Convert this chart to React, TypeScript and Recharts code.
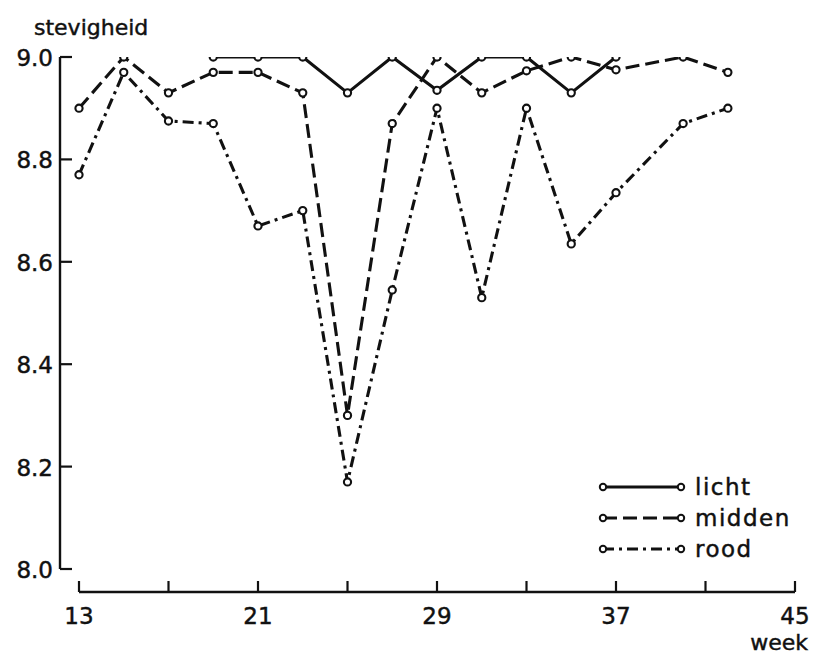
import React from 'react';
import * as R from 'recharts';

const { LineChart, Line, XAxis, YAxis } = R;

// weeks at which firmness was measured (licht has no data outside 19-37)
const weeks = [13, 15, 17, 19, 21, 23, 25, 27, 29, 31, 33, 35, 37, 40, 42];
const licht = [null, null, null, 9.0, 9.0, 9.0, 8.93, 9.0, 8.935, 9.0, 9.0, 8.93, 9.0, null, null];
const midden = [8.9, 9.0, 8.93, 8.97, 8.97, 8.93, 8.3, 8.87, 9.0, 8.93, 8.973, 9.0, 8.975, 9.0, 8.97];
const rood = [8.77, 8.97, 8.875, 8.87, 8.67, 8.7, 8.17, 8.545, 8.9, 8.53, 8.9, 8.635, 8.735, 8.87, 8.9];

const weekTicks = [13, 17, 21, 25, 29, 33, 37, 41, 45];
const weekLabels = [13, 21, 29, 37, 45];
const valueTicks = [8.0, 8.2, 8.4, 8.6, 8.8, 9.0];
const seriesNames = ['licht', 'midden', 'rood'];

const data = weeks.map((week, i) => ({
  week,
  licht: licht[i],
  midden: midden[i],
  rood: rood[i],
}));

const FONT = '"DejaVu Sans", sans-serif';
const INK = '#111';
// scanned print: text looks a bit heavier than DejaVu Book
const TEXT = { fontFamily: FONT, fontSize: 23, fill: INK, stroke: INK, strokeWidth: 0.45 };

/** dash pattern per series: solid, dashed, dash-dot */
const DASH: Record<string, string | undefined> = {
  licht: undefined,
  midden: '14 6',
  rood: '11 5 3 5',
};

// gap between the y-axis line and the first week
const Y_AXIS_GAP = 19;
const BOTTOM_PAD = 23;

function Dot(props: any) {
  const { cx, cy, index } = props;
  if (cy == null || cx == null) return <g key={`d-${index}`} />;
  return (
    <circle key={`d-${index}`} cx={cx} cy={cy} r={3.6} fill="#fff" stroke={INK} strokeWidth={2.1} />
  );
}

function WeekTick({ x, y, payload }: any) {
  const label = weekLabels.includes(payload.value);
  return (
    <g>
      <line x1={x} x2={x} y1={y} y2={y - 11} stroke={INK} strokeWidth={2.2} />
      {label && (
        <text x={x} y={y + 32} textAnchor="middle" {...TEXT}>
          {payload.value}
        </text>
      )}
    </g>
  );
}

function ValueTick({ x, y, payload }: any) {
  const ax = x - Y_AXIS_GAP;
  return (
    <g>
      <line x1={ax} x2={ax + 12} y1={y} y2={y} stroke={INK} strokeWidth={2.2} />
      <text x={ax - 7} y={y + 9} textAnchor="end" {...TEXT}>
        {payload.value.toFixed(1)}
      </text>
    </g>
  );
}

/** the y-axis line sits left of the plot and stops at 8.0; also the titles and legend */
function Decorations() {
  const usePlot = (R as any).usePlotArea;
  const plot = usePlot ? usePlot() : null;
  if (!plot) return null;
  const ax = plot.x - Y_AXIS_GAP;
  const lx = 603;
  return (
    <g>
      <line x1={ax} x2={ax} y1={plot.y} y2={plot.y + plot.height - BOTTOM_PAD} stroke={INK} strokeWidth={2.4} />
      <text x={34} y={35} {...TEXT} fontSize={22}>stevigheid</text>
      <text x={808} y={650} textAnchor="end" {...TEXT} fontSize={22}>week</text>
      {seriesNames.map((name, i) => {
        const y = 487 + i * 31;
        return (
          <g key={name}>
            <line x1={lx} x2={lx + 78} y1={y} y2={y} stroke={INK} strokeWidth={3} strokeDasharray={DASH[name]} />
            <circle cx={lx} cy={y} r={3.2} fill="#fff" stroke={INK} strokeWidth={2} />
            <circle cx={lx + 78} cy={y} r={3.2} fill="#fff" stroke={INK} strokeWidth={2} />
            <text x={695} y={y + 8} {...TEXT} letterSpacing={1.5}>
              {name}
            </text>
          </g>
        );
      })}
    </g>
  );
}

export default function App() {
  return (
    <div style={{ position: 'absolute', left: 0, top: 0, width: 813, height: 654, background: '#fff' }}>
      <LineChart width={813} height={654} data={data} margin={{ top: 57, right: 18, bottom: 0, left: 0 }}>
        <XAxis
          dataKey="week"
          type="number"
          domain={[13, 45]}
          ticks={weekTicks}
          interval={0}
          height={62}
          axisLine={{ stroke: INK, strokeWidth: 2.6 }}
          tickLine={false}
          tickSize={0}
          tickMargin={0}
          tick={<WeekTick />}
        />
        <YAxis
          type="number"
          domain={[8, 9]}
          ticks={valueTicks}
          interval={0}
          width={79}
          padding={{ top: 0, bottom: BOTTOM_PAD }}
          allowDataOverflow
          axisLine={false}
          tickLine={false}
          tickSize={0}
          tickMargin={0}
          tick={<ValueTick />}
        />
        <Decorations />
        {seriesNames.map((name) => (
          <Line
            key={name}
            dataKey={name}
            stroke={INK}
            strokeWidth={3.1}
            strokeDasharray={DASH[name]}
            dot={<Dot />}
            activeDot={false}
            isAnimationActive={false}
          />
        ))}
      </LineChart>
    </div>
  );
}
